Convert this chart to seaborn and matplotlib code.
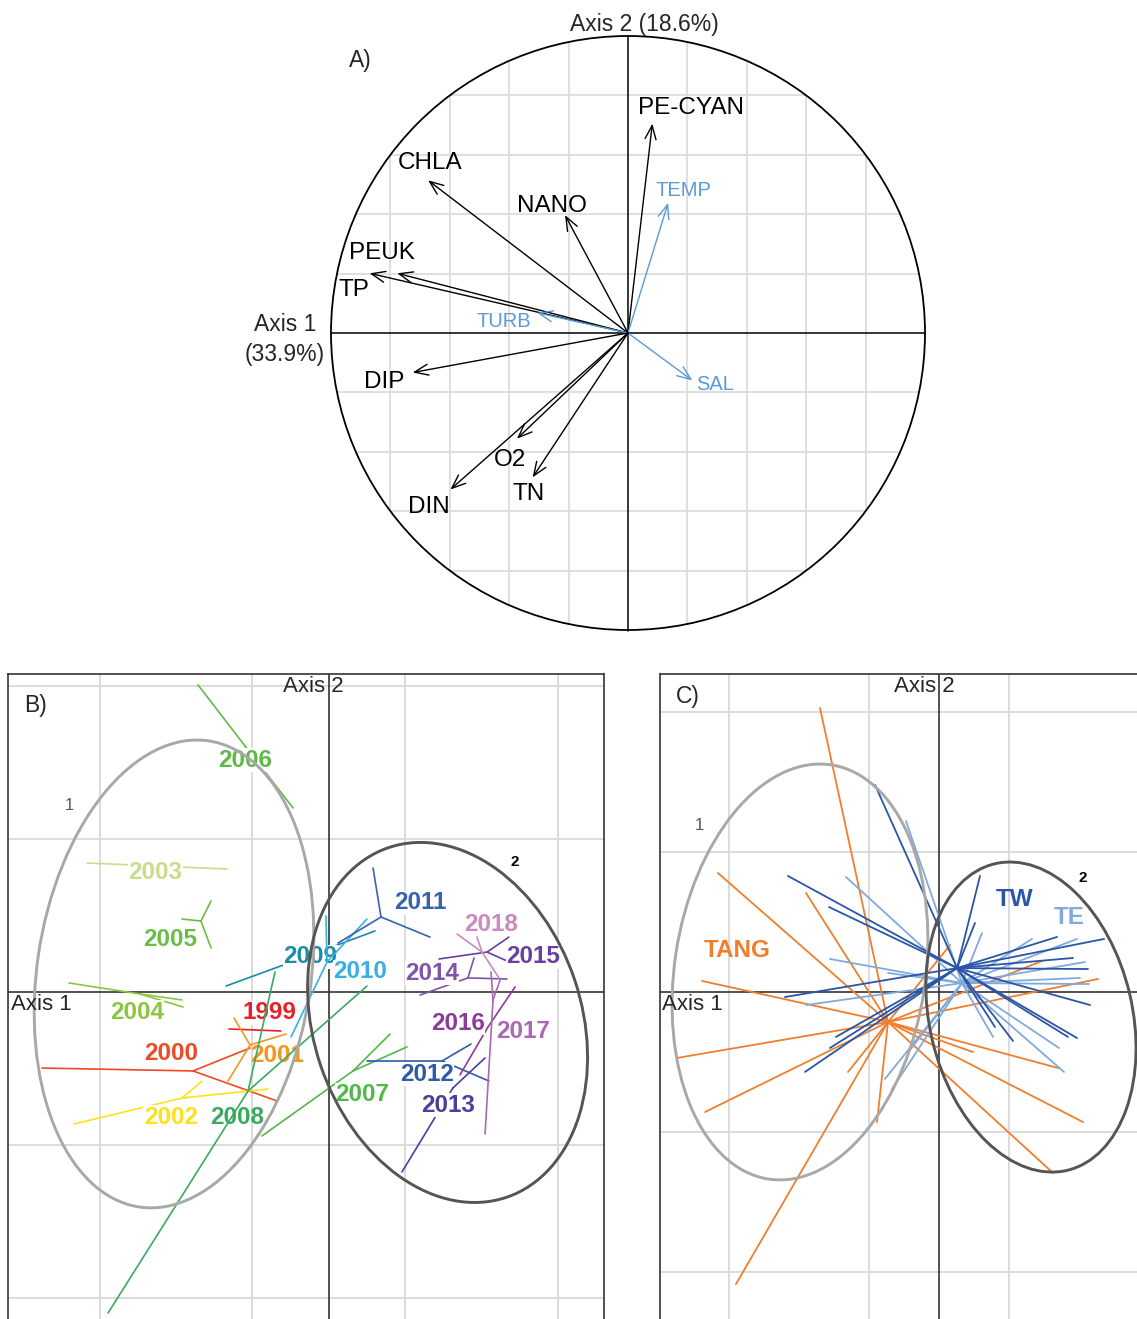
import numpy as np
import pandas as pd
import matplotlib
matplotlib.use("Agg")
import matplotlib.pyplot as plt
from matplotlib.patches import Circle, Ellipse
import seaborn as sns

# ---------------- data ----------------
# A) correlation circle (unit circle coordinates)
a_vars = ["PE-CYAN", "TEMP", "NANO", "CHLA", "PEUK", "TP", "TURB", "DIP", "SAL", "O2", "DIN", "TN"]
a_x = [0.082, 0.135, -0.212, -0.673, -0.777, -0.870, -0.306, -0.725, 0.217, -0.374, -0.598, -0.321]
a_y = [0.705, 0.438, 0.397, 0.514, 0.201, 0.201, 0.068, -0.133, -0.160, -0.356, -0.527, -0.486]
a_supp = [False, True, False, False, False, False, True, False, True, False, False, False]
inertia = [33.9, 18.6]

# B) samples grouped by year: centroid + sample scores
years = [str(y) for y in range(1999, 2019)]
b_cx = [-0.484, -0.889, -0.516, -0.961, -1.137, -1.235, -0.837, -0.549, 0.157, -0.529,
        -0.190, -0.013, 0.340, 0.739, 0.810, 0.908, 1.033, 1.039, 1.072, 1.000]
b_cy = [-0.248, -0.516, -0.346, -0.693, 0.824, -0.013, 0.464, 1.608, -0.516, -0.647,
        0.216, 0.196, 0.490, -0.451, -0.627, 0.092, 0.261, -0.229, -0.052, 0.261]
b_pts = [
    [(-0.654, -0.242), (-0.314, -0.255)],
    [(-1.876, -0.497), (-0.516, -0.366), (-0.340, -0.712)],
    [(-0.621, -0.170), (-0.281, -0.275), (-0.660, -0.582)],
    [(-1.667, -0.863), (-0.830, -0.582), (-0.399, -0.634)],
    [(-1.582, 0.843), (-0.667, 0.804)],
    [(-1.699, 0.059), (-0.961, -0.052), (-0.954, -0.098)],
    [(-0.771, 0.595), (-0.961, 0.477), (-0.771, 0.288)],
    [(-0.856, 2.007), (-0.235, 1.203)],
    [(0.399, -0.275), (0.510, -0.359), (-0.438, -0.941)],
    [(-1.444, -2.098), (-0.353, 0.131), (0.248, 0.039)],
    [(-0.673, 0.039), (0.301, 0.399)],
    [(-0.020, 0.497), (0.248, 0.477), (-0.248, -0.294)],
    [(0.288, 0.810), (0.660, 0.359), (0.059, 0.320)],
    [(0.248, -0.451), (0.928, -0.340), (1.046, -0.582)],
    [(0.477, -1.176), (1.020, -0.431)],
    [(0.595, -0.020), (0.948, 0.222), (1.163, 0.085)],
    [(1.176, 0.359), (1.163, 0.203), (0.719, 0.216)],
    [(1.216, 0.033), (0.856, -0.542)],
    [(1.059, 0.131), (1.020, -0.928), (1.118, 0.078)],
    [(0.837, 0.379), (1.111, 0.092), (0.967, 0.359)],
]
b_ell = {"x": [-1.013, 0.775], "y": [0.118, -0.199], "a": [1.54, 1.206],
         "b": [0.895, 0.876], "angle": [-8.5, 18.6]}

# C) samples grouped by zone
zones = ["TANG", "TE", "TW"]
c_cx = [-0.364, 0.164, 0.129]
c_cy = [-0.214, 0.064, 0.171]
c_pts = [
    [(-0.850, 2.029), (-1.579, 0.850), (-0.950, 0.707), (-1.693, 0.079), (-1.871, -0.471),
     (-1.671, -0.857), (-1.450, -2.086), (-0.443, -0.929), (-0.650, -0.571), (1.029, -0.929),
     (0.807, -1.286), (0.850, -0.543), (0.243, -0.429), (1.136, 0.093), (0.736, 0.221),
     (0.079, 0.336)],
    [(-0.236, 1.221), (-0.664, 0.821), (-0.779, 0.236), (-0.950, -0.093), (-0.386, -0.621),
     (-0.336, -0.693), (-0.207, -0.414), (0.664, 0.379), (0.986, 0.379), (1.043, 0.214),
     (1.071, 0.057), (1.007, 0.100), (0.857, -0.400), (0.893, -0.571), (0.386, -0.321),
     (0.307, 0.421), (-0.364, 0.136)],
    [(-0.457, 1.479), (-1.079, 0.829), (-0.786, 0.607), (-1.100, -0.036), (-0.957, -0.571),
     (-0.779, -0.400), (-0.736, -0.321), (0.293, 0.829), (0.257, 0.493), (1.179, 0.379),
     (0.843, 0.393), (0.957, 0.243), (1.064, 0.164), (1.079, -0.093), (0.986, -0.329),
     (0.921, -0.321), (0.529, -0.350), (0.400, -0.250)],
]
c_ell = {"x": [-0.993, 0.657], "y": [0.143, -0.179], "a": [1.496, 1.125],
         "b": [0.896, 0.724], "angle": [-8.6, 13.3]}

# ---------------- layout / style ----------------
W, H = 1137, 1319
a_label_pos = {"PE-CYAN": (0.212, 0.758), "TEMP": (0.185, 0.481), "NANO": (-0.256, 0.428),
               "CHLA": (-0.667, 0.572), "PEUK": (-0.828, 0.269), "TP": (-0.923, 0.145),
               "TURB": (-0.418, 0.040), "DIP": (-0.822, -0.165), "SAL": (0.293, -0.175),
               "O2": (-0.397, -0.428), "DIN": (-0.670, -0.586), "TN": (-0.333, -0.542)}
b_label_pos = [(-0.392, -0.137), (-1.033, -0.405), (-0.340, -0.412), (-1.033, -0.817),
               (-1.137, 0.778), (-1.255, -0.131), (-1.039, 0.340), (-0.549, 1.516),
               (0.216, -0.673), (-0.601, -0.817), (-0.124, 0.229), (0.203, 0.131),
               (0.595, 0.582), (0.641, -0.536), (0.778, -0.739), (0.673, 0.124),
               (1.333, 0.229), (0.843, -0.203), (1.268, -0.255), (1.059, 0.444)]
b_colors = ["#E8202A", "#EE4A25", "#F7941D", "#FFE11A", "#C8DC8C", "#8CC63F", "#6BBE45",
            "#5DBA46", "#52B84A", "#3AAA60", "#1B8BA8", "#3AAFE4", "#3563B0", "#2E5AA8",
            "#4A3F9E", "#7D55A8", "#6A3FA0", "#8E3B98", "#AA68B2", "#C98BC0"]
b_nobox = {"2008", "2001"}
c_label_pos = {"TANG": (-1.443, 0.293), "TE": (0.929, 0.529), "TW": (0.543, 0.664)}
c_colors = {"TANG": "#F07E2C", "TE": "#80AADD", "TW": "#2B55A6"}
BLUE = "#5B9BD5"
GRID = "#DCDCDC"

sns.set_theme(style="white")
plt.rcParams["font.family"] = ["Liberation Sans", "DejaVu Sans"]

fig = plt.figure(figsize=(W / 100, H / 100), dpi=100)


def px_axes(x0, y0, x1, y1, cx, cy, s):
    """Axes covering a pixel box, with data units of s pixels centred on (cx, cy)."""
    ax = fig.add_axes([x0 / W, 1 - y1 / H, (x1 - x0) / W, (y1 - y0) / H])
    lims = ((x0 - cx) / s, (x1 - cx) / s), ((cy - y1) / s, (cy - y0) / s)
    return ax, lims


def star_frame(groups, cx, cy, pts):
    rows = []
    for g, x0, y0, ends in zip(groups, cx, cy, pts):
        for k, (x1, y1) in enumerate(ends):
            rows.append((g, f"{g}-{k}", x0, y0))
            rows.append((g, f"{g}-{k}", x1, y1))
    return pd.DataFrame(rows, columns=["group", "seg", "x", "y"])


def finish(ax, lims):
    ax.set_xlim(*lims[0])
    ax.set_ylim(*lims[1])
    ax.set_xlabel("")
    ax.set_ylabel("")
    ax.set_xticks([])
    ax.set_yticks([])


# ---------------- A) ----------------
axA, limA = px_axes(200, 0, 960, 660, 628, 333, 297)
circ = Circle((0, 0), 1, fill=False, ec="black", lw=1.3, zorder=3)
axA.add_patch(circ)
for g in [-0.8, -0.6, -0.4, -0.2, 0.2, 0.4, 0.6, 0.8]:
    for ln in (axA.plot([g, g], [-1, 1], color=GRID, lw=1.3, zorder=0)[0],
               axA.plot([-1, 1], [g, g], color=GRID, lw=1.3, zorder=0)[0]):
        ln.set_clip_path(circ)
axA.plot([-1, 1], [0, 0], color="black", lw=1.1, zorder=2)
axA.plot([0, 0], [-1.005, 1], color="black", lw=1.1, zorder=2)
for v, x, y, sup in zip(a_vars, a_x, a_y, a_supp):
    col = BLUE if sup else "black"
    axA.annotate("", xy=(x, y), xytext=(0, 0),
                 arrowprops=dict(arrowstyle="->,head_length=0.55,head_width=0.22",
                                 color=col, lw=1.0, mutation_scale=18,
                                 shrinkA=0, shrinkB=0), zorder=4)
    lx, ly = a_label_pos[v]
    axA.text(lx, ly, v, color=col, fontsize=14.5 if sup else 17.5,
             ha="center", va="center", zorder=5)
axA.text(0.054, 1.040, f"Axis 2 ({inertia[1]}%)", fontsize=16.5, ha="center", va="center")
axA.text(-1.155, 0.030, "Axis 1", fontsize=16.5, ha="center", va="center")
axA.text(-1.155, -0.072, f"({inertia[0]}%)", fontsize=16.5, ha="center", va="center")
axA.text(-0.902, 0.916, "A)", fontsize=16.5, ha="center", va="center")
finish(axA, limA)
axA.set_axis_off()


def frame_panel(ax):
    for g in [-1.5, -0.5, 0.5, 1.5]:
        ax.axvline(g, color=GRID, lw=1.4, zorder=0)
    for g in [-2, -1, 1, 2]:
        ax.axhline(g, color=GRID, lw=1.4, zorder=0)
    ax.axhline(0, color="#333333", lw=1.2, zorder=1)
    ax.axvline(0, color="#333333", lw=1.2, zorder=1)
    for sp in ax.spines.values():
        sp.set_color("#333333")
        sp.set_linewidth(1.2)


def draw_ellipses(ax, ell, lab_pos):
    for i, ec in enumerate(["#A8A8A8", "#555555"]):
        ax.add_patch(Ellipse((ell["x"][i], ell["y"][i]), 2 * ell["b"][i], 2 * ell["a"][i],
                             angle=ell["angle"][i], fill=False, ec=ec, lw=2.1, zorder=40))
    ax.text(*lab_pos[0], "1", color="#555555", fontsize=12, ha="center", va="center", zorder=41)
    ax.text(*lab_pos[1], "2", color="black", fontsize=11, fontweight="bold",
            ha="center", va="center", zorder=41)


# ---------------- B) ----------------
axB, limB = px_axes(8, 674, 604, 1332, 329, 992, 153)
frame_panel(axB)
dfB = star_frame(years, b_cx, b_cy, b_pts)
for i, yr in enumerate(years):
    sns.lineplot(data=dfB[dfB["group"] == yr], x="x", y="y", units="seg", estimator=None,
                 sort=False, color=b_colors[i], lw=1.2, legend=False, ax=axB, zorder=2 + 2 * i)
    box = None if yr in b_nobox else dict(boxstyle="square,pad=0.02", fc="white", ec="none")
    axB.text(*b_label_pos[i], yr, color=b_colors[i], fontsize=17.5, fontweight="bold",
             ha="center", va="center", zorder=(1.5 if yr in b_nobox else 3 + 2 * i), bbox=box)
draw_ellipses(axB, b_ell, [(-1.699, 1.222), (1.216, 0.850)])
axB.text(-1.99, 1.87, "B)", fontsize=16.5, ha="left", va="center")
axB.text(-2.08, -0.08, "Axis 1", fontsize=16, ha="left", va="center", zorder=60)
axB.text(-0.105, 2.0, "Axis 2", fontsize=16, ha="center", va="center", zorder=60)
finish(axB, limB)

# ---------------- C) ----------------
axC, limC = px_axes(660, 674, 1148, 1332, 939, 992, 140)
frame_panel(axC)
dfC = star_frame(zones, c_cx, c_cy, c_pts)
for i, z in enumerate(zones):
    sns.lineplot(data=dfC[dfC["group"] == z], x="x", y="y", units="seg", estimator=None,
                 sort=False, color=c_colors[z], lw=1.3, legend=False, ax=axC, zorder=2 + i)
for z in zones:
    axC.text(*c_label_pos[z], z, color=c_colors[z], fontsize=17.5, fontweight="bold",
             ha="center", va="center", zorder=50)
draw_ellipses(axC, c_ell, [(-1.714, 1.186), (1.029, 0.814)])
axC.text(-1.88, 2.11, "C)", fontsize=16.5, ha="left", va="center")
axC.text(-1.98, -0.09, "Axis 1", fontsize=16, ha="left", va="center", zorder=60)
axC.text(-0.105, 2.18, "Axis 2", fontsize=16, ha="center", va="center", zorder=60)
finish(axC, limC)

fig.savefig("out.png", dpi=100)
